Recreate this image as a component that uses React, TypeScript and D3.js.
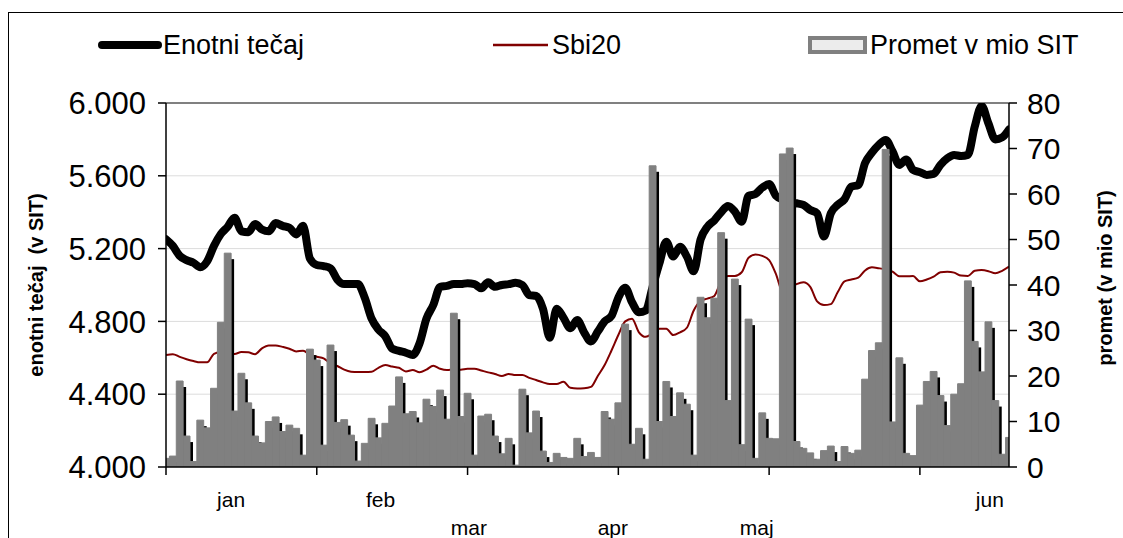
import React from 'react';
import * as d3 from 'd3';

const enotniTecaj = [
  5251, 5215, 5160, 5137, 5122, 5098, 5130, 5215, 5280, 5320,
  5370, 5295, 5290, 5335, 5305, 5295, 5340, 5325, 5315, 5278,
  5325, 5145, 5110, 5104, 5092, 5030, 5005, 5005, 5005, 4930,
  4815, 4755, 4718, 4650, 4638, 4628, 4615, 4680, 4815, 4890,
  4990, 4995, 5005, 5005, 5010, 5005, 4982, 5015, 4990, 5000,
  5005, 5012, 5000, 4945, 4940, 4870, 4710, 4870, 4820, 4762,
  4808, 4740, 4690, 4744, 4800, 4830, 4930, 4985, 4905, 4850,
  4860, 4990, 5120, 5238, 5156, 5210, 5156, 5075, 5250, 5320,
  5355, 5400, 5434, 5403, 5348, 5490, 5500, 5535, 5555, 5490,
  5470, 5455, 5449, 5440, 5412, 5394, 5266, 5394, 5440, 5471,
  5540, 5549, 5670, 5727, 5770, 5797, 5735, 5660, 5690, 5632,
  5620, 5605, 5610, 5660, 5696, 5714, 5709, 5715, 5870, 5984,
  5888, 5800, 5811, 5855,
];

const sbi20 = [
  4615, 4620, 4605, 4592, 4582, 4575, 4575, 4622, 4632, 4628,
  4621, 4632, 4630, 4620, 4652, 4668, 4668, 4660, 4650, 4635,
  4639, 4617, 4606, 4597, 4570, 4555, 4535, 4524, 4522, 4522,
  4524, 4545, 4560, 4552, 4545, 4525, 4533, 4520, 4535, 4557,
  4540, 4533, 4535, 4535, 4540, 4540, 4530, 4520, 4511, 4500,
  4511, 4505, 4505, 4490, 4478, 4465, 4456, 4456, 4468, 4435,
  4432, 4433, 4440, 4500, 4560, 4640, 4725, 4800, 4815, 4740,
  4715, 4735, 4760, 4760, 4725, 4740, 4765, 4860, 4912, 4925,
  4940, 5020, 5049, 5050, 5070, 5150, 5168, 5160, 5137, 5060,
  4960, 4985, 5005, 5015, 4990, 4910, 4890, 4895, 4960, 5020,
  5030, 5040, 5080, 5097, 5092, 5085, 5073, 5048, 5048, 5049,
  5020, 5030, 5046, 5070, 5073, 5068, 5052, 5050, 5078, 5082,
  5076, 5064, 5078, 5101,
];

const promet = [
  1.9, 2.4, 18.9, 6.8, 1.2, 10.3, 8.6, 17.3, 31.8, 47,
  12.3, 20.6, 14.1, 6.8, 5.3, 10, 11, 7.8, 9.2, 8.5,
  2.6, 25.9, 23.5, 4.8, 26.8, 9.8, 10.4, 7, 1.3, 5.2,
  10.7, 6.4, 9.6, 13.4, 19.8, 11.7, 12.2, 9.7, 14.9, 13.3,
  16.9, 10.5, 33.8, 11.1, 16.2, 2.6, 11.2, 11.6, 6.8, 2.9,
  6.3, 0.4, 17.1, 7.5, 12.3, 3.5, 1, 3, 2.1, 1.9,
  6.3, 2.3, 3.2, 2.1, 12.2, 10.5, 14.1, 31.4, 5, 8.5,
  1.7, 66.2, 10, 18.8, 11.1, 16.3, 13.8, 2.6, 37.3, 32.8,
  37.1, 51.5, 14.6, 41.3, 4.9, 32.5, 1.9, 11.9, 6.3, 6.2,
  68.8, 70.1, 5.6, 4.1, 3.1, 1.7, 3.6, 4.6, 1.2, 4.5,
  3, 3.7, 19.3, 25.6, 27.3, 69.8, 9.9, 24, 3, 2.5,
  13.6, 18.8, 21, 15.7, 9.1, 16, 18.3, 40.9, 27.6, 20.9,
  31.9, 14.6, 2.8, 6.5,
];

const leftTicks = [4000, 4400, 4800, 5200, 5600, 6000];
const rightTicks = [0, 10, 20, 30, 40, 50, 60, 70, 80];
const monthLabels = ['jan', 'feb', 'mar', 'apr', 'maj', 'jun'];
const monthPos = [9.5, 31.3, 44.2, 65.2, 86.2, 120.2];
const monthRow = [0, 0, 1, 1, 1, 0];
const tickEvery = 22;

const W = 1123;
const H = 538;
const PL = 166;
const PR = 1009;
const PT = 103;
const PB = 467;

const fmtLocale = d3.formatLocale({ decimal: ',', thousands: '.', grouping: [3], currency: ['', ''] });
const fmtLeft = fmtLocale.format(',d');

export default function App() {
  const n = promet.length;
  const x = d3.scaleLinear().domain([0, n - 1]).range([PL, PR]);
  const step = x(1) - x(0);
  const yL = d3.scaleLinear().domain([4000, 6000]).range([PB, PT]);
  const yR = d3.scaleLinear().domain([0, 80]).range([PB, PT]);

  const lineE = d3.line<number>().x((_, i) => x(i)).y((d) => yL(d)).curve(d3.curveMonotoneX);
  const idx = d3.range(n);
  const xTicks = idx.filter((i) => i % tickEvery === 0);

  const font = 'Liberation Sans, Arial, sans-serif';

  return (
    <svg width={W} height={H} style={{ position: 'absolute', left: 0, top: 0, background: '#fff' }} fontFamily={font}>
      <defs>
        <clipPath id="plotClip">
          <rect x={PL} y={PT} width={PR - PL} height={PB - PT} />
        </clipPath>
      </defs>
      {/* chart frame */}
      <rect x={8.5} y={12.5} width={W + 20} height={H + 20} fill="none" stroke="#000" strokeWidth={1} />

      {/* legend */}
      <line x1={102} x2={158} y1={45} y2={45} stroke="#000" strokeWidth={8} strokeLinecap="round" />
      <text x={163} y={54} fontSize={27}>Enotni tečaj</text>
      <line x1={493} x2={548} y1={45} y2={45} stroke="#800000" strokeWidth={2.5} />
      <text x={552} y={54} fontSize={27}>Sbi20</text>
      <rect x={810} y={38} width={55} height={14} fill="#ececec" stroke="#808080" strokeWidth={4} />
      <text x={870} y={54} fontSize={27}>Promet v mio SIT</text>

      {/* gridlines */}
      {leftTicks.slice(1, -1).map((t) => (
        <line key={'g' + t} x1={PL} x2={PR} y1={yL(t)} y2={yL(t)} stroke="#dcdcdc" strokeWidth={1} />
      ))}
      <line x1={PL} x2={PR} y1={PT} y2={PT} stroke="#808080" strokeWidth={2} />

      <g clipPath="url(#plotClip)">
        <path d={lineE(sbi20) || ''} fill="none" stroke="#800000" strokeWidth={2} />
        <path d={lineE(enotniTecaj) || ''} fill="none" stroke="#000" strokeWidth={8} strokeLinejoin="round" strokeLinecap="round" />
        {promet.map((v, i) => (
          <rect key={'s' + i} x={x(i) - step / 2 + 3} y={yR(v) + 6} width={step} height={Math.max(0, PB - yR(v))} fill="#000" />
        ))}
        {promet.map((v, i) => (
          <rect key={'b' + i} x={x(i) - step / 2} y={yR(v)} width={step} height={Math.max(0, PB - yR(v))} fill="#808080" stroke="#808080" strokeWidth={1} strokeLinejoin="round" />
        ))}
      </g>

      {/* axes */}
      <line x1={PL} x2={PL} y1={PT} y2={PB} stroke="#000" strokeWidth={1.5} />
      <line x1={PR} x2={PR} y1={PT} y2={PB} stroke="#000" strokeWidth={1.5} />
      <line x1={PL} x2={PR} y1={PB} y2={PB} stroke="#000" strokeWidth={1.5} />
      {leftTicks.map((t) => (
        <g key={'l' + t}>
          <line x1={PL - 8} x2={PL} y1={yL(t)} y2={yL(t)} stroke="#000" strokeWidth={1.5} />
          <text x={PL - 20} y={yL(t)} dy="0.36em" textAnchor="end" fontSize={31}>{fmtLeft(t)}</text>
        </g>
      ))}
      {rightTicks.map((t) => (
        <g key={'r' + t}>
          <line x1={PR} x2={PR + 8} y1={yR(t)} y2={yR(t)} stroke="#000" strokeWidth={1.5} />
          <text x={PR + 18} y={yR(t)} dy="0.36em" textAnchor="start" fontSize={30}>{t}</text>
        </g>
      ))}
      {xTicks.map((i) => (
        <line key={'x' + i} x1={x(i)} x2={x(i)} y1={PB} y2={PB + 8} stroke="#000" strokeWidth={1.5} />
      ))}
      {monthLabels.map((m, j) => (
        <text key={m} x={x(monthPos[j])} y={monthRow[j] === 0 ? 507 : 535} textAnchor="middle" fontSize={21}>{m}</text>
      ))}

      {/* axis titles */}
      <text transform={`translate(43,285) rotate(-90)`} textAnchor="middle" fontSize={20} fontWeight="bold" style={{ whiteSpace: 'pre' }}>enotni tečaj  (v SIT)</text>
      <text transform={`translate(1112,278) rotate(-90)`} textAnchor="middle" fontSize={20} fontWeight="bold">promet (v mio SIT)</text>
    </svg>
  );
}
